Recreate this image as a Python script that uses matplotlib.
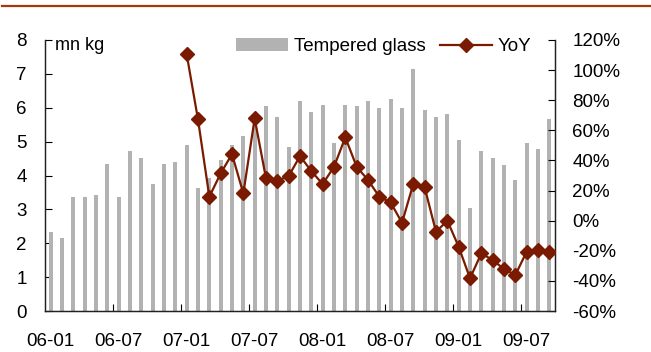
import numpy as np
import matplotlib.pyplot as plt
from matplotlib.lines import Line2D
from matplotlib.ticker import FuncFormatter

plt.rcParams['font.family'] = ['Liberation Sans', 'DejaVu Sans']

# monthly output of tempered glass, Jan 2006 - Sep 2009 (mn kg)
months = [f'{y:02d}-{m:02d}' for y in range(6, 10) for m in range(1, 13)][:45]
glass = [2.34, 2.16, 3.37, 3.37, 3.43, 4.34, 3.37, 4.72, 4.52, 3.75, 4.34, 4.40,
         4.90, 3.64, 3.92, 4.45, 4.90, 5.16, 5.60, 6.05, 5.72, 4.84, 6.19, 5.87,
         6.08, 4.96, 6.08, 6.05, 6.19, 5.99, 6.25, 5.99, 7.14, 5.93, 5.72, 5.81,
         5.04, 3.04, 4.72, 4.51, 4.31, 3.86, 4.96, 4.78, 5.66]
# year-on-year growth, available from Jan 2007
yoy = [1.106, 0.672, 0.159, 0.314, 0.442, 0.181, 0.679, 0.281, 0.265, 0.296,
       0.429, 0.329, 0.243, 0.358, 0.553, 0.358, 0.270, 0.159, 0.121, -0.014,
       0.245, 0.221, -0.074, 0.0, -0.173, -0.383, -0.217, -0.262, -0.321,
       -0.361, -0.206, -0.195, -0.206]
tick_labels = ['06-01', '06-07', '07-01', '07-07', '08-01', '08-07', '09-01', '09-07']

bar_color = '#b2b2b2'
line_color = '#7a1a00'
fs = 13.5

fig = plt.figure(figsize=(6.51, 3.52), dpi=100)
ax = fig.add_axes([45 / 651, 1 - 311 / 352, 510 / 651, 271 / 352])
ax2 = ax.twinx()

x = np.arange(len(glass))
ax.bar(x, glass, width=0.38, color=bar_color, label='Tempered glass', zorder=2)
x_yoy = np.arange(len(glass) - len(yoy), len(glass))
ax2.plot(x_yoy, yoy, color=line_color, lw=1.6, marker='D', ms=7,
         mec=line_color, mfc=line_color, label='YoY', zorder=3)

ax.set_xlim(-0.5, len(glass) - 0.5)
ax.set_ylim(0, 8)
ax.set_yticks(np.arange(0, 9, 1))
ax2.set_ylim(-0.6, 1.2)
ax2.set_yticks(np.arange(-0.6, 1.21, 0.2))
ax2.yaxis.set_major_formatter(FuncFormatter(lambda v, p: f'{v * 100:.0f}%'))

# boundary ticks every six months, labels centred on the bars
ax.set_xticks(np.arange(5.5, len(glass), 6))
ax.set_xticklabels([])
ax.set_xticks(np.arange(0, len(glass), 6), minor=True)
ax.set_xticklabels(tick_labels, minor=True)
ax.tick_params(axis='x', which='major', direction='in', length=5, width=0.8)
ax.tick_params(axis='x', which='minor', length=0, pad=15.5, labelsize=fs)
ax.tick_params(axis='y', direction='in', length=5, width=0.8, pad=13, labelsize=fs)
ax2.tick_params(axis='y', direction='in', length=5, width=0.8, pad=12.5, labelsize=fs)

for a in (ax, ax2):
    a.spines['top'].set_visible(False)
    for s in ('left', 'right', 'bottom'):
        a.spines[s].set_linewidth(0.9)
        a.spines[s].set_color('#222222')

ax.set_zorder(ax2.get_zorder() - 1)
ax2.patch.set_visible(False)

fig.text(55 / 651, 1 - 45 / 352, 'mn kg', fontsize=13, va='center', ha='left')

handles = [ax.patches[0], ax2.lines[0]]
fig.legend(handles, ['Tempered glass', 'YoY'], loc='center left',
           bbox_to_anchor=(236 / 651, 1 - 46.5 / 352), ncol=2, frameon=False,
           fontsize=fs, borderpad=0, borderaxespad=0, handlelength=2.75,
           handleheight=0.7, handletextpad=0.35, columnspacing=0.75, numpoints=1)

# header rule
fig.add_artist(Line2D([2 / 651, 1], [1 - 5.5 / 352, 1 - 5.5 / 352],
                      color='#a33a0a', lw=1.6))

fig.savefig('out.png', dpi=100)
